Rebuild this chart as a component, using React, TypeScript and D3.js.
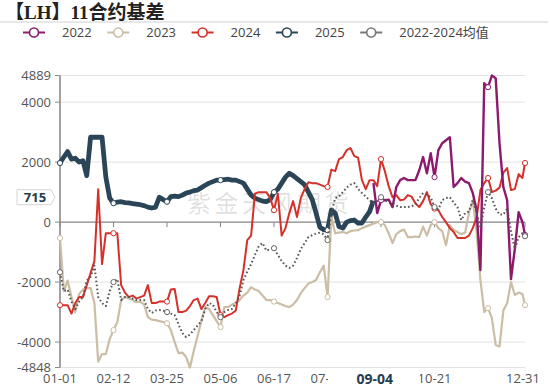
import React from "react";
import * as d3 from "d3";

// categories: every day of a (leap) year, MM-DD
const categories = d3
  .timeDay.range(new Date(2024, 0, 1), new Date(2025, 0, 1))
  .map(d3.timeFormat("%m-%d"));

// values were read every 3 days, plus the last day
const sampleDays = [...d3.range(0, 364, 3), 365];

const xTickLabels = ["01-01", "02-12", "03-25", "05-06", "06-17", "07-29", "09-09", "10-21", "12-31"];
// 09-09 sits under the pointer label, so only its tick is drawn
const hiddenLabels = ["09-09"];
const yTicks = [4889, 4000, 2000, 0, -2000, -4000, -4848];

const values2022 = [
  1300, 300, 730, 730, 750, 500, 1170, 1400, 1470, 1400,
  1400, 1400, 1730, 2170, 1630, 2300, 1500, 2400, 2630, 2730,
  2830, 1170, 1300, 1470, 1350, 1300, 970, 400, -1600, 4630,
  4500, 4889, 4800, 2630, 1170, 730, -1900, -900, 330, 0, -430,
];

const values2023 = [
  -530, -2300, -1950, -2500, -3000, -2400, -2250, -2200, -2200, -2700,
  -4650, -4400, -4400, -3900, -3600, -3330, -2600, -2500, -2550, -2600,
  -2670, -2650, -2750, -3170, -3250, -3270, -3300, -3330, -3370, -3600,
  -4000, -4370, -4350, -4500, -4848, -4300, -3800, -3300, -2830, -2900,
  -3100, -3300, -3500, -2830, -2830, -2750, -2700, -2600, -2450, -2350,
  -2170, -2250, -2300, -2450, -2600, -2600, -2650, -2700, -2750, -2800,
  -2830, -2750, -2600, -2370, -2200, -2050, -2000, -1930, -1670, -1450,
  -2500, 170, -370, -350, -330, -370, -300, -280, -270, -200,
  -150, -100, -50, 0, 0, -100, -370, -700, -400, -300,
  -250, -500, -500, -480, -500, -150, -450, -100, 0, -200,
  -300, -770, -100, -250, -330, -400, -350, 300, 730, -300,
  -1930, -3000, -2870, -3200, -4100, -4150, -2950, -2700, -2000, -2430,
  -2350, -2400, -2770,
];

const values2024 = [
  -2770, -2770, -2770, -3050, -2700, -2500, -2500, -2100, -1700, -1300,
  1100, -1400, -370, -370, -370, -370, -2100, -2350, -2500, -2450,
  -2550, -2500, -2450, -2100, -2700, -2700, -2650, -2650, -2650, -2250,
  -2230, -3000, -3000, -2950, -2800, -2600, -2550, -2900, -2700, -2470,
  -2470, -2500, -3100, -3170, -3100, -3050, -2950, -2200, -1600, -600,
  -450, 950, 1000, 1000, 1000, 800, 400, 950, -450, -200,
  300, 700, 170, 800, 1100, 1330, 1300, 1300, 1250, 1200,
  1170, 1750, 1700, 2100, 2170, 2400, 2470, 2200, 2150, 1400,
  1100, 1400, 1400, 1200, 2100, 1700, 1200, 830, 900, 730,
  750, 900, 850, 630, 500, 700, 1000, 600, 450, 400,
  170, 0, -200, -330, -530, -530, -530, -450, -200, 150,
  1070, 1300, 1470, 1000, 1050, 1150, 1650, 1800, 1070, 1100,
  1600, 1470, 1970,
];

const values2025 = [
  1970, 2170, 2350, 2100, 2130, 2000, 2050, 1550, 2830, 2830,
  2830, 2830, 1500, 800, 630, 670, 680, 650, 640, 620,
  600, 580, 550, 500, 470, 500, 830, 750, 680, 850,
  870, 850, 900, 970, 1000, 1050, 1070, 1150, 1230, 1300,
  1350, 1400, 1400, 1420, 1430, 1400, 1400, 1350, 1300, 1100,
  900, 800, 750, 700, 680, 750, 1000, 1100, 1300, 1500,
  1630, 1550, 1450, 1350, 1250, 1000, 750, 300, -170, -250,
  -270, 400, 300, -150, -200, 0, 50, 70, -30, -30,
  170, 350, 715,
];

const valuesAvg = [
  -1670, -2300, -2250, -2650, -2900, -2650, -2500, -1950, -1830, -1450,
  -2500, -2700, -2800, -2300, -2000, -1900, -2600, -2500, -2500, -2550,
  -2600, -2600, -2600, -2900, -3030, -2950, -2930, -2950, -3000, -3050,
  -3100, -3400, -3700, -3830, -3750, -3600, -3450, -3300, -2900, -2700,
  -2750, -3000, -3170, -3000, -2930, -2900, -2700, -2450, -1930, -1650,
  -1400, -1100, -800, -700, -950, -900, -870, -1100, -1300, -1450,
  -1530, -1450, -1200, -900, -700, -500, -430, -380, -350, -400,
  -600, 300, 800, 850, 1000, 1150, 1250, 1300, 1100, 970,
  850, 730, 630, 700, 830, 750, 650, 630, 550, 500,
  500, 500, 520, 600, 800, 970, 900, 830, 500, 420,
  730, 800, 830, 650, 500, 70, 300, 350, 730, 300,
  -170, 500, 1000, 800, 450, 250, 250, 450, -300, -900,
  -500, -370, -470,
];

const series = [
  { name: "2025", color: "#2a4558", width: 4.8, startDay: 0, values: values2025, dash: null },
  { name: "2023", color: "#cbbda6", width: 2.2, startDay: 0, values: values2023, dash: null },
  { name: "2024", color: "#d3312a", width: 2, startDay: 0, values: values2024, dash: null },
  { name: "2022", color: "#8c1b6e", width: 2.4, startDay: 246, values: values2022, dash: null },
  { name: "2022-2024均值", color: "#555555", width: 2, startDay: 0, values: valuesAvg, dash: "1.6 2.4" },
];

const legendItems = [
  { name: "2022", color: "#8c1b6e" },
  { name: "2023", color: "#cbbda6" },
  { name: "2024", color: "#d3312a" },
  { name: "2025", color: "#2a4558" },
  { name: "2022-2024均值", color: "#777777" },
];

const pointerDay = "09-04";
const pointerValue = 715;

const W = 550;
const H = 387;
const left = 60;
const right = 525;
const top = 75.5;
const bottom = 367.5;

const sansFont = "'Open Sans', 'Noto Sans', 'Noto Sans CJK SC', sans-serif";

export default function App() {
  const x = d3.scalePoint<string>().domain(categories).range([left, right]);
  const y = d3.scaleLinear().domain([-4848, 4889]).range([bottom, top]);

  const points = (s: (typeof series)[number]) => {
    const i0 = sampleDays.indexOf(s.startDay);
    return s.values.map((v, i) => ({ day: sampleDays[i0 + i], v }));
  };

  const line = d3
    .line<{ day: number; v: number }>()
    .x((d) => x(categories[d.day]) as number)
    .y((d) => y(d.v));

  const px = (lab: string) => x(lab) as number;
  const py = y(0);
  const labelY = y(pointerValue) - 3.5;

  return (
    <div style={{ position: "absolute", left: 0, top: 0 }}>
      <svg width={W} height={H} style={{ display: "block", background: "#fff" }}>
        {/* title */}
        <text
          x={5}
          y={19}
          fontFamily="'Liberation Serif', 'Noto Sans CJK SC', serif"
          fontWeight="bold"
          fontSize={19}
          fill="#222"
        >
          【LH】11合约基差
        </text>
        <line x1={0} x2={548} y1={22} y2={22} stroke="#cfcfcf" strokeWidth={1.2} />

        {/* legend */}
        {legendItems.map((d, i) => {
          const lx = 23 + i * 84.3;
          return (
            <g key={d.name} transform={`translate(${lx},32.5)`}>
              <line x1={0} x2={22} y1={0} y2={0} stroke={d.color} strokeWidth={2} />
              <circle cx={11} cy={0} r={4.5} fill="#fff" stroke={d.color} strokeWidth={1.6} />
              <text x={39} y={4.5} fontFamily={sansFont} fontSize={13} fill="#444">
                {d.name}
              </text>
            </g>
          );
        })}

        {/* grid */}
        {yTicks
          .filter((t) => t !== 0)
          .map((t) => (
            <line key={t} x1={left} x2={right} y1={y(t)} y2={y(t)} stroke="#e2e2e2" strokeWidth={1} />
          ))}

        {/* watermark */}
        <text
          x={187}
          y={212}
          fontFamily="'Noto Sans CJK SC', sans-serif"
          fontSize={24}
          letterSpacing={3.5}
          fill="#000"
          fillOpacity={0.13}
        >
          紫金天风期货
        </text>

        {/* zero axis line with ticks */}
        <line x1={left} x2={right} y1={py} y2={py} stroke="#858585" strokeWidth={1.2} />
        {xTickLabels.map((lab) => (
          <line key={lab} x1={px(lab)} x2={px(lab)} y1={py} y2={py + 5} stroke="#858585" strokeWidth={1} />
        ))}

        {/* y axis */}
        <line x1={left} x2={left} y1={top} y2={bottom} stroke="#8a8a8a" strokeWidth={1.6} />
        {yTicks.map((t) => (
          <g key={t}>
            <line x1={left - 5} x2={left} y1={y(t)} y2={y(t)} stroke="#8a8a8a" strokeWidth={1} />
            <text
              x={left - 9}
              y={y(t) + 4.5}
              textAnchor="end"
              fontFamily={sansFont}
              fontSize={13}
              fill="#555"
            >
              {t}
            </text>
          </g>
        ))}

        {/* series */}
        {series.map((s) => {
          const pts = points(s);
          return (
            <g key={s.name}>
              <path
                d={line(pts) || ""}
                fill="none"
                stroke={s.color}
                strokeWidth={s.width}
                strokeLinejoin="round"
                strokeDasharray={s.dash || undefined}
              />
              {pts
                .filter((p) => p.day % 42 === 0 || p.day === 365)
                .map((p) => (
                  <circle
                    key={p.day}
                    cx={x(categories[p.day]) as number}
                    cy={y(p.v)}
                    r={2.6}
                    fill="#fff"
                    stroke={s.name === "2022-2024均值" ? "#666" : s.color}
                    strokeWidth={1}
                  />
                ))}
            </g>
          );
        })}

        {/* x labels */}
        {xTickLabels
          .filter((lab) => !hiddenLabels.includes(lab))
          .map((lab) => (
            <text
              key={lab}
              x={lab === "12-31" ? px(lab) - 2 : px(lab)}
              y={383}
              textAnchor="middle"
              fontFamily={sansFont}
              fontSize={13}
              fill="#555"
            >
              {lab}
            </text>
          ))}

        {/* axis pointer labels */}
        <rect x={328} y={369} width={92} height={18} fill="#fff" />
        <text
          x={px(pointerDay)}
          y={384}
          textAnchor="middle"
          fontFamily={sansFont}
          fontSize={14}
          fontWeight="bold"
          fill="#263d4e"
        >
          {pointerDay}
        </text>
        <path
          d={`M17,${labelY - 7.5}H51L55,${labelY}L51,${labelY + 7.5}H17Z`}
          fill="#fff"
          stroke="#d5d5d5"
          strokeWidth={1}
        />
        <text
          x={35}
          y={labelY + 4.5}
          textAnchor="middle"
          fontFamily={sansFont}
          fontSize={13}
          fontWeight="bold"
          fill="#263d4e"
        >
          {pointerValue}
        </text>
      </svg>
    </div>
  );
}
